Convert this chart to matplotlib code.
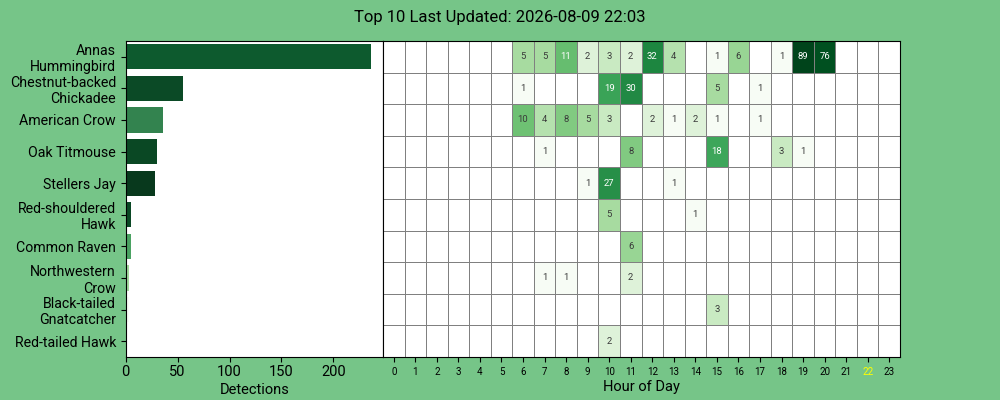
import textwrap
import numpy as np
import matplotlib
matplotlib.use("Agg")
from matplotlib import pyplot as plt
from matplotlib.colors import LogNorm

plt.rcParams['font.family'] = ['Roboto', 'DejaVu Sans']

species = ["Annas Hummingbird", "Chestnut-backed Chickadee", "American Crow",
           "Oak Titmouse", "Stellers Jay", "Red-shouldered Hawk", "Common Raven",
           "Northwestern Crow", "Black-tailed Gnatcatcher", "Red-tailed Hawk"]
detections = [236, 55, 36, 30, 28, 5, 5, 3, 3, 1]
bar_colors = ["#0d5a2e", "#0b4a26", "#33834f", "#0a4824", "#08391d",
              "#0a4824", "#4aa262", "#a3d79c", "#f7fcf5", "#c7e9c0"]

hours = list(range(24))
current_hour = 22
# counts per species (rows) and hour (columns)
hourly = [
    [0, 0, 0, 0, 0, 0, 5, 5, 11, 2, 3, 2, 32, 4, 0, 1, 6, 0, 1, 89, 76, 0, 0, 0],
    [0, 0, 0, 0, 0, 0, 1, 0, 0, 0, 19, 30, 0, 0, 0, 5, 0, 1, 0, 0, 0, 0, 0, 0],
    [0, 0, 0, 0, 0, 0, 10, 4, 8, 5, 3, 0, 2, 1, 2, 1, 0, 1, 0, 0, 0, 0, 0, 0],
    [0, 0, 0, 0, 0, 0, 0, 1, 0, 0, 0, 8, 0, 0, 0, 18, 0, 0, 3, 1, 0, 0, 0, 0],
    [0, 0, 0, 0, 0, 0, 0, 0, 0, 1, 27, 0, 0, 1, 0, 0, 0, 0, 0, 0, 0, 0, 0, 0],
    [0, 0, 0, 0, 0, 0, 0, 0, 0, 0, 5, 0, 0, 0, 1, 0, 0, 0, 0, 0, 0, 0, 0, 0],
    [0, 0, 0, 0, 0, 0, 0, 0, 0, 0, 0, 6, 0, 0, 0, 0, 0, 0, 0, 0, 0, 0, 0, 0],
    [0, 0, 0, 0, 0, 0, 0, 1, 1, 0, 0, 2, 0, 0, 0, 0, 0, 0, 0, 0, 0, 0, 0, 0],
    [0, 0, 0, 0, 0, 0, 0, 0, 0, 0, 0, 0, 0, 0, 0, 3, 0, 0, 0, 0, 0, 0, 0, 0],
    [0, 0, 0, 0, 0, 0, 0, 0, 0, 0, 2, 0, 0, 0, 0, 0, 0, 0, 0, 0, 0, 0, 0, 0],
]

bg = "#76c588"
fig = plt.figure(figsize=(10, 4), dpi=100, facecolor=bg)
ax1 = fig.add_axes([0.1257, 0.1075, 0.2573, 0.79])
ax2 = fig.add_axes([0.383, 0.1075, 0.517, 0.79])

# bar chart
y = np.arange(len(species))
ax1.barh(y, detections, height=0.8, color=bar_colors)
ax1.set_ylim(len(species) - 0.5, -0.5)
ax1.set_yticks(y)
ax1.set_yticklabels([textwrap.fill(s, 15) for s in species], fontsize=10.2)
ax1.set_xlabel("Detections", fontsize=10.5, labelpad=3)
ax1.tick_params(axis='x', labelsize=10.5, pad=2)
ax1.set_facecolor("white")

# heatmap
data = np.array(hourly, dtype=float)
masked = np.ma.masked_where(data <= 0, data)
cmap = plt.get_cmap("Greens").copy()
cmap.set_bad("white")
norm = LogNorm(vmin=1, vmax=data.max())
ax2.pcolormesh(np.arange(25) - 0.5, np.arange(11) - 0.5, masked, cmap=cmap, norm=norm,
               edgecolors="gray", linewidth=0.7)
ax2.set_ylim(len(species) - 0.5, -0.5)
ax2.set_xlim(-0.5, 23.5)
ax2.set_yticks([])
ax2.set_xticks(hours)
ax2.set_xticklabels([str(h) for h in hours], fontsize=7)
ax2.get_xticklabels()[current_hour].set_color("yellow")
ax2.set_xlabel("Hour of Day", fontsize=10.5, labelpad=2)

for i in range(data.shape[0]):
    for j in range(data.shape[1]):
        v = data[i, j]
        if v > 0:
            col = "white" if norm(v) > 0.52 else "#3a3a3a"
            ax2.text(j, i, "%d" % v, ha="center", va="center", fontsize=6.8, color=col)

fig.suptitle("Top 10 Last Updated: 2026-08-09 22:03", fontsize=12, y=0.975)
fig.savefig("out.png", facecolor=bg)
